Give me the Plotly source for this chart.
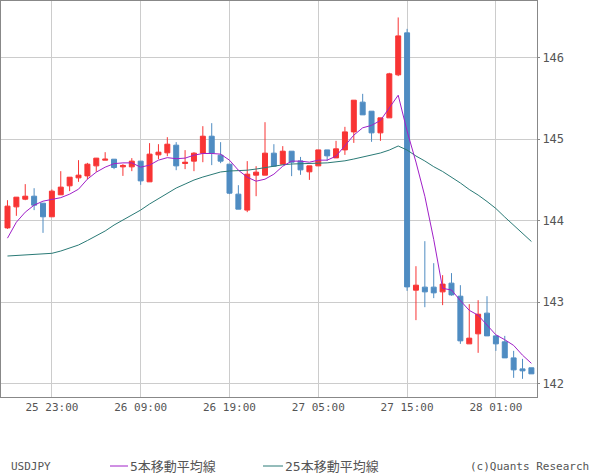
import plotly.graph_objects as go

# hourly bars, 25 18:00 .. 28 05:00
times = [f"{d} {h:02d}:00" for d, h in
         [(25, h) for h in range(18, 24)] + [(26, h) for h in range(24)] +
         [(27, h) for h in range(24)] + [(28, h) for h in range(6)]]

open_ = [143.912, 144.170, 144.264, 144.301, 144.215, 144.048, 144.318, 144.428, 144.526, 144.550,
         144.673, 144.743, 144.755, 144.661, 144.661, 144.731, 144.477, 144.808, 144.833, 144.927,
         144.702, 144.731, 144.829, 145.037, 144.804, 144.694, 144.326, 144.130, 144.559, 144.559,
         144.829, 144.694, 144.853, 144.734, 144.600, 144.673, 144.869, 144.771, 144.869, 145.090,
         145.455, 145.344, 145.078, 145.262, 145.790, 146.305, 143.148, 143.185, 143.185, 143.127,
         143.234, 143.074, 142.489, 142.612, 142.866, 142.587, 142.514, 142.317, 142.182, 142.195]
high = [144.252, 144.289, 144.449, 144.399, 144.215, 144.383, 144.608, 144.534, 144.743, 144.710,
        144.770, 144.841, 144.755, 144.694, 144.768, 144.731, 144.952, 144.939, 145.025, 144.964,
        144.866, 144.841, 145.160, 145.197, 144.964, 144.694, 144.436, 144.731, 144.669, 145.209,
        144.939, 144.915, 144.853, 144.783, 144.673, 144.869, 144.869, 144.980, 145.152, 145.479,
        145.557, 145.344, 145.262, 145.815, 146.494, 146.354, 143.442, 143.749, 143.479, 143.332,
        143.357, 143.209, 142.976, 143.025, 143.074, 142.590, 142.587, 142.403, 142.305, 142.195]
low = [143.900, 144.060, 144.252, 144.130, 143.851, 144.048, 144.318, 144.363, 144.477, 144.510,
       144.600, 144.743, 144.633, 144.550, 144.608, 144.440, 144.477, 144.755, 144.792, 144.620,
       144.633, 144.608, 144.718, 144.682, 144.706, 144.326, 144.142, 144.105, 144.301, 144.559,
       144.669, 144.694, 144.547, 144.563, 144.501, 144.673, 144.734, 144.771, 144.808, 144.955,
       145.299, 144.968, 144.980, 145.262, 145.774, 143.139, 142.780, 142.939, 143.050, 142.964,
       143.080, 142.489, 142.489, 142.379, 142.587, 142.403, 142.317, 142.072, 142.060, 142.121]
close = [144.179, 144.289, 144.301, 144.191, 144.048, 144.363, 144.412, 144.534, 144.559, 144.694,
         144.768, 144.755, 144.653, 144.678, 144.731, 144.489, 144.817, 144.841, 144.939, 144.673,
         144.718, 144.829, 145.037, 144.829, 144.731, 144.338, 144.142, 144.571, 144.596, 144.829,
         144.669, 144.853, 144.718, 144.624, 144.673, 144.869, 144.796, 144.882, 145.090, 145.479,
         145.299, 145.078, 145.262, 145.802, 146.268, 143.188, 143.209, 143.127, 143.115, 143.222,
         143.090, 142.526, 142.559, 142.853, 142.587, 142.489, 142.317, 142.170, 142.158, 142.121]

ma5 = [143.786, 143.982, 144.105, 144.191, 144.240, 144.264, 144.283, 144.326, 144.387, 144.510,
       144.596, 144.657, 144.700, 144.710, 144.710, 144.657, 144.682, 144.743, 144.774, 144.761,
       144.768, 144.804, 144.825, 144.825, 144.817, 144.743, 144.620, 144.534, 144.485, 144.510,
       144.571, 144.669, 144.731, 144.731, 144.718, 144.743, 144.743, 144.792, 144.915, 145.050,
       145.140, 145.170, 145.230, 145.390, 145.540, 145.100, 144.720, 144.300, 143.770, 143.170,
       143.150, 143.020, 142.900, 142.840, 142.720, 142.600, 142.540, 142.470, 142.350, 142.250]
ma25 = [143.567, 143.573, 143.578, 143.584, 143.591, 143.600, 143.628, 143.665, 143.702, 143.757,
        143.812, 143.874, 143.947, 144.009, 144.070, 144.131, 144.205, 144.272, 144.340, 144.401,
        144.450, 144.499, 144.536, 144.567, 144.598, 144.610, 144.613, 144.620, 144.634, 144.653,
        144.671, 144.686, 144.696, 144.702, 144.702, 144.706, 144.710, 144.720, 144.735, 144.757,
        144.782, 144.806, 144.831, 144.867, 144.917, 144.867, 144.794, 144.733, 144.663, 144.604,
        144.536, 144.463, 144.383, 144.315, 144.236, 144.150, 144.045, 143.947, 143.843, 143.745]

tick_times = ["25 23:00", "26 09:00", "26 19:00", "27 05:00", "27 15:00", "28 01:00"]

RED = "#f83434"
BLUE = "#4f8cc2"
PURPLE = "#a020c8"
TEAL = "#2a7a76"
TXT = "#555555"
FONT = "DejaVu Sans Mono, Noto Sans CJK JP"

fig = go.Figure()
fig.add_trace(go.Candlestick(
    x=times, open=open_, high=high, low=low, close=close,
    increasing=dict(line=dict(color=RED, width=1), fillcolor=RED),
    decreasing=dict(line=dict(color=BLUE, width=1), fillcolor=BLUE),
    whiskerwidth=0, showlegend=False, hoverinfo="skip"))
fig.add_trace(go.Scatter(x=times, y=ma25, mode="lines",
                         line=dict(color=TEAL, width=1), showlegend=False))
fig.add_trace(go.Scatter(x=times, y=ma5, mode="lines",
                         line=dict(color=PURPLE, width=1), showlegend=False))

# pixel -> paper helpers for the footer
def px(x):
    return (x - 1) / 536

def py(y):
    return (397 - y) / 396

fig.update_layout(
    width=600, height=475,
    margin=dict(l=1, r=63, t=1, b=78),
    paper_bgcolor="white", plot_bgcolor="white",
    boxgap=0.2,
    font=dict(family=FONT, size=11, color=TXT),
    xaxis=dict(type="category", range=[-0.73, 59.63],
               tickmode="array", tickvals=tick_times, ticktext=tick_times,
               showgrid=True, gridcolor="#cccccc", gridwidth=1,
               showline=True, linecolor="#888888", linewidth=1, mirror=True,
               ticks="", tickfont=dict(family=FONT, size=11, color=TXT),
               rangeslider=dict(visible=False), zeroline=False),
    yaxis=dict(side="right", range=[141.837, 146.696], tick0=142, dtick=1,
               showgrid=True, gridcolor="#cccccc", gridwidth=1,
               showline=True, linecolor="#888888", linewidth=1, mirror=True,
               ticks="outside", ticklen=2, tickcolor="#888888",
               tickfont=dict(family=FONT, size=12, color=TXT), zeroline=False),
)

fig.add_shape(type="line", xref="paper", yref="paper",
              x0=px(110), x1=px(128), y0=py(466), y1=py(466),
              line=dict(color=PURPLE, width=1))
fig.add_shape(type="line", xref="paper", yref="paper",
              x0=px(263), x1=px(283), y0=py(466), y1=py(466),
              line=dict(color=TEAL, width=1))

notes = [("USDJPY", 9, "left", 11),
         ("5本移動平均線", 128, "left", 13),
         ("25本移動平均線", 283, "left", 13),
         ("(c)Quants Research", 591, "right", 11)]
for text, x, anchor, size in notes:
    fig.add_annotation(text=text, xref="paper", yref="paper", x=px(x), y=py(466),
                       xanchor=anchor, yanchor="middle", showarrow=False,
                       font=dict(family=FONT, size=size, color=TXT))

# drop the default page margin so the figure sits at the top-left corner
fig.write_html("out.html", config={"displayModeBar": False},
               post_script="document.body.style.margin = '0';")
